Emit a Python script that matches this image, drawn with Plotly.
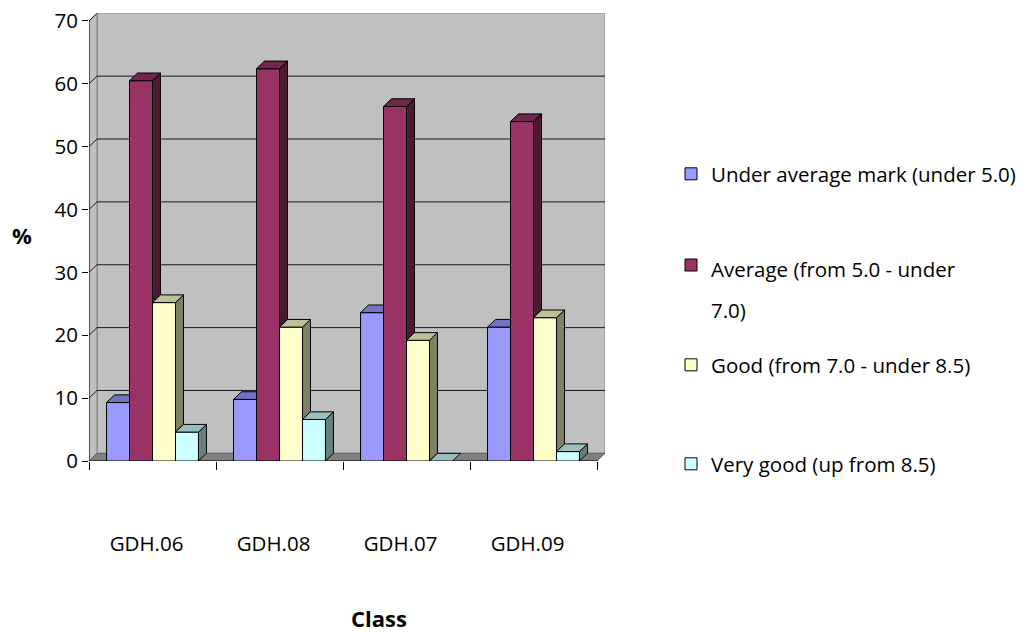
import plotly.graph_objects as go

# ---------------- data ----------------
categories = ["GDH.06", "GDH.08", "GDH.07", "GDH.09"]
series_names = [
    "Under average mark (under 5.0)",
    "Average (from 5.0 - under<br>7.0)",
    "Good (from 7.0 - under 8.5)",
    "Very good (up from 8.5)",
]
under_average = [9.3, 9.8, 23.6, 21.3]
average = [60.5, 62.4, 56.4, 54.0]
good = [25.2, 21.3, 19.2, 22.8]
very_good = [4.6, 6.6, 0.0, 1.5]
y_tick_values = [0, 10, 20, 30, 40, 50, 60, 70]

# ---------------- style ----------------
W, H = 1027, 632
FONT = "Open Sans"
FS = 20.5
front_colors = ["#9999FF", "#993366", "#FFFFCC", "#CCFFFF"]
top_colors = ["#7373BF", "#73264D", "#BFBF99", "#99BFBF"]
side_colors = ["#4D4D80", "#4D1A33", "#808066", "#668080"]
BARGAP = 0.276
DX = 0.063   # 3D depth offset in x-axis units
DY = 1.22    # 3D depth offset in y-axis units
YMAX = 70
LEGEND_LINE_GAP = 41  # px between wrapped legend lines

series_values = [under_average, average, good, very_good]
n_series = len(series_values)
bar_w = (1 - BARGAP) / n_series
xpos = list(range(len(categories)))

fig = go.Figure()


def legend_label(name):
    # keep the visible text size; spacing of wrapped lines comes from the legend font
    return "<br>".join(f"<span style='font-size:{FS}px'>{part}</span>" for part in name.split("<br>"))


# front faces (real bars)
legend_ids = ["legend", "legend2", "legend3", "legend4"]
for s, vals in enumerate(series_values):
    fig.add_trace(go.Bar(
        x=xpos, y=vals, name=legend_label(series_names[s]),
        marker=dict(color=front_colors[s], line=dict(color="black", width=1)),
        legend=legend_ids[s],
    ))

# 3D top and side faces computed from the same values
for s, vals in enumerate(series_values):
    tx, ty, sx, sy = [], [], [], []
    for c, h in enumerate(vals):
        L = xpos[c] - (1 - BARGAP) / 2 + s * bar_w
        R = L + bar_w
        has_next = s < n_series - 1
        hn = series_values[s + 1][c] if has_next else 0.0
        # top face
        if has_next and hn > h:
            if hn >= h + DY:
                pts = [(L, h), (R, h), (R, h + DY), (L + DX, h + DY)]
            else:
                pts = [(L, h), (R, h), (R, hn), (R + DX * (hn - h) / DY, hn),
                       (R + DX, h + DY), (L + DX, h + DY)]
        else:
            pts = [(L, h), (R, h), (R + DX, h + DY), (L + DX, h + DY)]
        for px_, py_ in pts + [pts[0]]:
            tx.append(px_); ty.append(py_)
        tx.append(None); ty.append(None)
        # side face (visible part)
        lo = hn if has_next else 0.0
        if h > lo:
            pts = [(R, lo), (R, h), (R + DX, h + DY), (R + DX, lo + DY)]
            for px_, py_ in pts + [pts[0]]:
                sx.append(px_); sy.append(py_)
            sx.append(None); sy.append(None)
    if sx:
        fig.add_trace(go.Scatter(x=sx, y=sy, mode="lines", fill="toself",
                                 fillcolor=side_colors[s], line=dict(color="black", width=1),
                                 showlegend=False, hoverinfo="skip"))
    fig.add_trace(go.Scatter(x=tx, y=ty, mode="lines", fill="toself",
                             fillcolor=top_colors[s], line=dict(color="black", width=1),
                             showlegend=False, hoverinfo="skip"))

# ---------------- walls, floor, gridlines ----------------
x0, x1 = -0.5, len(categories) - 0.5
shapes = []
shapes.append(dict(type="rect", xref="x", yref="y", x0=x0 + DX, x1=x1 + DX, y0=DY, y1=YMAX + DY,
                   fillcolor="#C0C0C0", line=dict(color="#808080", width=1), layer="below"))
shapes.append(dict(type="path", xref="x", yref="y", layer="below",
                   path=f"M {x0},0 L {x0},{YMAX} L {x0+DX},{YMAX+DY} L {x0+DX},{DY} Z",
                   fillcolor="#C0C0C0", line=dict(color="#808080", width=1)))
shapes.append(dict(type="path", xref="x", yref="y", layer="below",
                   path=f"M {x0},0 L {x1},0 L {x1+DX},{DY} L {x0+DX},{DY} Z",
                   fillcolor="#808080", line=dict(color="#606060", width=1)))
for v in y_tick_values[1:-1]:
    shapes.append(dict(type="line", xref="x", yref="y", layer="below",
                       x0=x0 + DX, x1=x1 + DX, y0=v + DY, y1=v + DY,
                       line=dict(color="#1a1a1a", width=1)))
for v in y_tick_values[1:]:
    shapes.append(dict(type="line", xref="x", yref="y", layer="below",
                       x0=x0, x1=x0 + DX, y0=v, y1=v + DY,
                       line=dict(color="#1a1a1a", width=1)))
# axis lines
shapes.append(dict(type="line", xref="x", yref="y", layer="below",
                   x0=x0, x1=x0, y0=0, y1=YMAX, line=dict(color="black", width=1)))
shapes.append(dict(type="line", xref="x", yref="y", layer="below",
                   x0=x0, x1=x1, y0=0, y1=0, line=dict(color="black", width=1)))

legend_y = [174, 270, 365, 464]
legends = {}
for i, lid in enumerate(legend_ids):
    multi = "<br>" in series_names[i]
    lfs = LEGEND_LINE_GAP / 1.3 if multi else FS
    offset = 32 if multi else 20
    legends[lid] = dict(
        x=671 / W, xanchor="left", y=1 - (legend_y[i] - offset) / H, yanchor="top",
        font=dict(family=FONT, size=lfs, color="black"),
        bgcolor="rgba(0,0,0,0)", borderwidth=0, valign="top",
    )

fig.update_layout(
    width=W, height=H,
    margin=dict(l=0, r=0, t=0, b=0, autoexpand=False),
    paper_bgcolor="white", plot_bgcolor="rgba(0,0,0,0)",
    barmode="group", bargap=BARGAP, bargroupgap=0,
    font=dict(family=FONT, size=FS, color="black"),
    shapes=shapes,
    xaxis=dict(
        domain=[89 / W, 605 / W], range=[x0, x1 + DX], automargin=False,
        tickmode="array", tickvals=xpos, ticktext=categories, ticks="",
        showgrid=False, zeroline=False, showline=False,
        ticklabelstandoff=68, ticklabelshift=-6,
        tickfont=dict(family=FONT, size=FS, color="black"),
        minor=dict(tick0=-0.5, dtick=1, ticks="outside", ticklen=8, tickcolor="black", showgrid=False),
    ),
    yaxis=dict(
        domain=[1 - 461 / H, 1 - 13.3 / H], range=[0, YMAX + DY], automargin=False,
        tickmode="array", tickvals=y_tick_values, ticks="outside", ticklen=6,
        tickcolor="black", showgrid=False, zeroline=False, showline=False,
        tickfont=dict(family=FONT, size=FS, color="black"),
    ),
    annotations=[
        dict(text="%", x=22 / W, y=1 - 235 / H, xref="paper", yref="paper",
             xanchor="center", yanchor="middle", showarrow=False,
             font=dict(family=FONT, size=22, color="black", weight="bold")),
        dict(text="Class", x=379 / W, y=1 - 618 / H, xref="paper", yref="paper",
             xanchor="center", yanchor="middle", showarrow=False,
             font=dict(family=FONT, size=22, color="black", weight="bold")),
    ],
    **legends,
)

fig.write_html("out.html")
